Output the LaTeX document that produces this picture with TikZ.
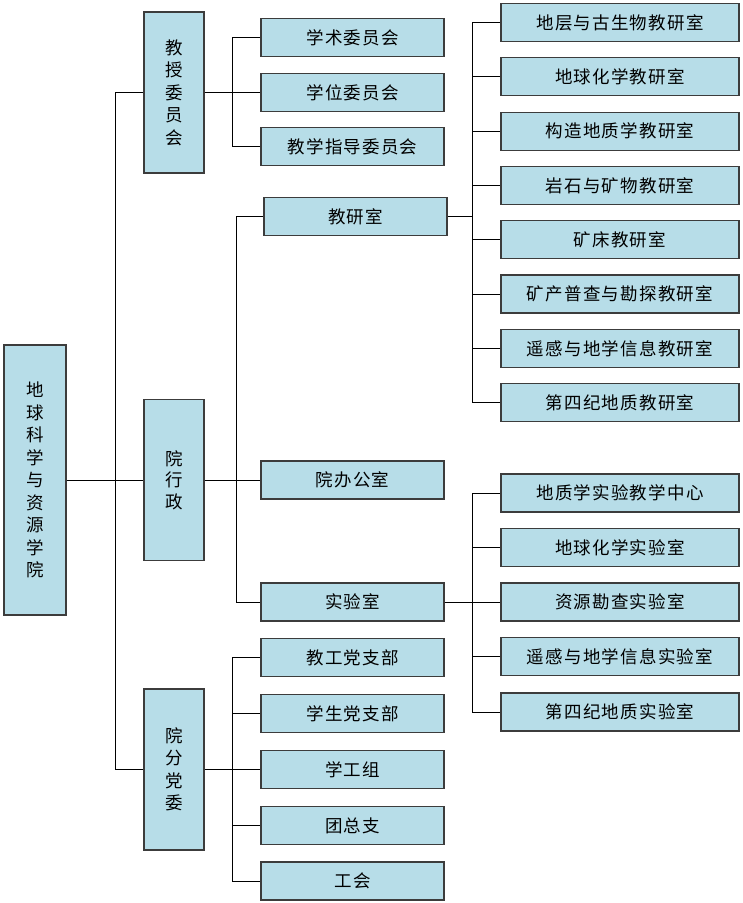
\documentclass[tikz,border=0pt]{standalone}
\usepackage{fontspec}
\newfontfamily\cjk[LetterSpace=7]{Noto Sans CJK SC}
\definecolor{boxfill}{RGB}{183,221,232}
\definecolor{boxline}{RGB}{60,60,60}
\begin{document}
\begin{tikzpicture}[x=1pt,y=-1pt,
  box/.style={draw=boxline, fill=boxfill, line width=1.2pt, inner sep=0pt,
    font=\cjk\fontsize{17.5}{22.5}\selectfont, align=center},
  tall/.style={box, minimum width=60pt, minimum height=161pt},
  mid/.style={box, minimum width=183pt, minimum height=38pt},
  rgt/.style={box, minimum width=238pt, minimum height=38pt},
  conn/.style={draw=black, line width=0.8pt}]
\useasboundingbox (0,0) rectangle (743,903);
% root
\node[box, minimum width=62pt, minimum height=270pt] (root) at (35,480) {地\\球\\科\\学\\与\\资\\源\\学\\院};
% level 1
\node[tall] (jw) at (174,92.5) {教\\授\\委\\员\\会};
\node[tall, font=\cjk\fontsize{17.5}{21.7}\selectfont] (xz) at (174,480) {院\\行\\政};
\node[tall] (dw) at (174,769.5) {院\\分\\党\\委};
% committee
\node[mid] (s1) at (352.5,37.5) {学术委员会};
\node[mid] (s2) at (352.5,92.5) {学位委员会};
\node[mid] (s3) at (352.5,146.5) {教学指导委员会};
% admin
\node[mid] (jy) at (355.5,216.5) {教研室};
\node[mid] (bg) at (352.5,480) {院办公室};
\node[mid] (sy) at (352.5,602) {实验室};
% party
\node[mid] (p1) at (352.5,657.5) {教工党支部};
\node[mid] (p2) at (352.5,713.5) {学生党支部};
\node[mid] (p3) at (352.5,769.5) {学工组};
\node[mid] (p4) at (352.5,825.5) {团总支};
\node[mid] (p5) at (352.5,881) {工会};
% teaching sections
\node[rgt] (t1) at (620,22.5) {地层与古生物教研室};
\node[rgt] (t2) at (620,76.8) {地球化学教研室};
\node[rgt] (t3) at (620,131.1) {构造地质学教研室};
\node[rgt] (t4) at (620,185.4) {岩石与矿物教研室};
\node[rgt] (t5) at (620,239.7) {矿床教研室};
\node[rgt] (t6) at (620,294) {矿产普查与勘探教研室};
\node[rgt] (t7) at (620,348.3) {遥感与地学信息教研室};
\node[rgt] (t8) at (620,402.6) {第四纪地质教研室};
% labs
\node[rgt] (l1) at (620,493) {地质学实验教学中心};
\node[rgt] (l2) at (620,547.5) {地球化学实验室};
\node[rgt] (l3) at (620,602) {资源勘查实验室};
\node[rgt] (l4) at (620,656.5) {遥感与地学信息实验室};
\node[rgt] (l5) at (620,712) {第四纪地质实验室};
% buses
\coordinate (b0) at (115,480);
\coordinate (b1) at (232,92.5);
\coordinate (b2) at (236,480);
\coordinate (b3) at (232,769.5);
\coordinate (b4) at (472,216.5);
\coordinate (b5) at (472,602);
% root level
\draw[conn] (root.east) -- (xz.west);
\draw[conn] (b0 |- jw.west) -- (b0 |- dw.west);
\draw[conn] (b0 |- jw.west) -- (jw.west);
\draw[conn] (b0 |- dw.west) -- (dw.west);
% committee
\draw[conn] (jw.east) -- (s2.west);
\draw[conn] (b1 |- s1.west) -- (b1 |- s3.west);
\foreach \n in {s1,s3} \draw[conn] (b1 |- \n.west) -- (\n.west);
% admin
\draw[conn] (xz.east) -- (bg.west);
\draw[conn] (b2 |- jy.west) -- (b2 |- sy.west);
\foreach \n in {jy,sy} \draw[conn] (b2 |- \n.west) -- (\n.west);
% party
\draw[conn] (dw.east) -- (p3.west);
\draw[conn] (b3 |- p1.west) -- (b3 |- p5.west);
\foreach \n in {p1,p2,p4,p5} \draw[conn] (b3 |- \n.west) -- (\n.west);
% teaching sections
\draw[conn] (jy.east) -- (b4);
\draw[conn] (b4 |- t1.west) -- (b4 |- t8.west);
\foreach \n in {t1,t2,t3,t4,t5,t6,t7,t8} \draw[conn] (b4 |- \n.west) -- (\n.west);
% labs
\draw[conn] (sy.east) -- (l3.west);
\draw[conn] (b5 |- l1.west) -- (b5 |- l5.west);
\foreach \n in {l1,l2,l4,l5} \draw[conn] (b5 |- \n.west) -- (\n.west);
\end{tikzpicture}
\end{document}
